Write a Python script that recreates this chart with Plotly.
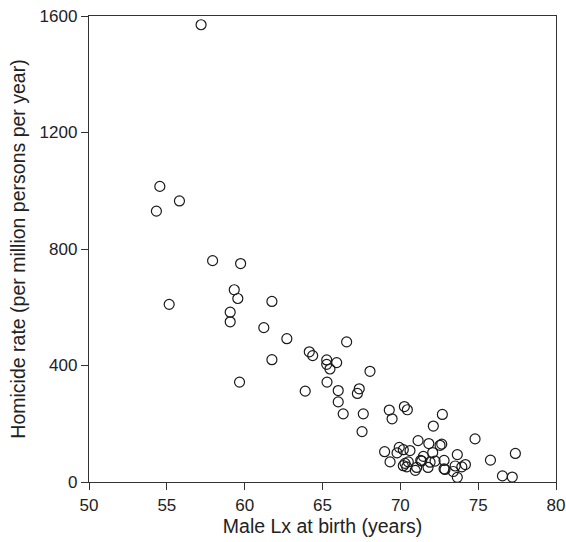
import plotly.graph_objects as go

male_lx = [57.2, 54.55, 55.81, 54.33, 57.94, 59.74, 59.33, 59.56, 55.15, 61.75,
           59.07, 59.07, 61.23, 62.71, 61.75, 59.67,
           64.15, 64.37, 66.55, 65.27, 65.27, 65.48, 65.91, 68.05, 63.89, 65.29,
           66.01, 66.01, 66.33, 67.36, 67.24, 67.62, 67.54,
           69.29, 69.47, 70.26, 70.45, 72.70, 72.12, 74.80, 71.14, 71.83, 72.55,
           68.99, 69.93, 69.79, 70.19, 70.62, 69.34, 70.19, 70.41, 70.51, 70.96,
           71.05, 71.48, 71.31, 72.08, 71.78, 72.23, 72.81, 72.81, 73.66, 73.52,
           73.66, 74.18, 73.95, 75.79, 76.56, 77.19, 77.39, 72.66, 73.40, 71.91,
           70.30, 71.37, 72.87]
homicide = [1570, 1015, 965, 930, 760, 750, 660, 630, 610, 620,
            583, 550, 530, 492, 420, 343,
            447, 434, 481, 419, 404, 388, 410, 380, 312, 343,
            314, 275, 234, 320, 304, 234, 173,
            247, 217, 259, 248, 232, 192, 148, 142, 132, 126,
            104, 119, 100, 111, 108, 69, 56, 52, 69, 40,
            50, 88, 74, 101, 50, 72, 74, 45, 94, 55,
            16, 60, 52, 75, 21, 17, 98, 130, 36, 68,
            64, 72, 43]

FONT = "Liberation Sans, Arial, sans-serif"

fig = go.Figure()
fig.add_trace(go.Scatter(
    x=male_lx, y=homicide, mode="markers",
    marker=dict(symbol="circle-open", size=10, color="#1a1a1a",
                line=dict(width=1.2, color="#1a1a1a")),
    showlegend=False, hoverinfo="x+y"))

axis_common = dict(showgrid=False, zeroline=False, showline=True, linecolor="#333333",
                   linewidth=1.3, ticks="outside", ticklen=7, tickcolor="#333333",
                   tickwidth=1, mirror=True, automargin=False,
                   ticklabeloverflow="allow",
                   tickfont=dict(family=FONT, size=17, color="#222222"),
                   title_font=dict(family=FONT, size=19.5, color="#222222"))

fig.update_xaxes(range=[50, 80], tickvals=[50, 55, 60, 65, 70, 75, 80],
                 title_text="Male Lx at birth (years)", title_standoff=0, **axis_common)
fig.update_yaxes(range=[0, 1600], tickvals=[0, 400, 800, 1200, 1600],
                 title_text="Homicide rate (per million persons per year)", title_standoff=8,
                 **axis_common)

fig.update_layout(width=566, height=542, margin=dict(l=89, r=10, t=16, b=60),
                  plot_bgcolor="white", paper_bgcolor="white",
                  font=dict(family=FONT))

fig.write_html("out.html", config={"displayModeBar": False},
               post_script="document.body.style.margin='0';document.body.style.overflow='hidden';")
